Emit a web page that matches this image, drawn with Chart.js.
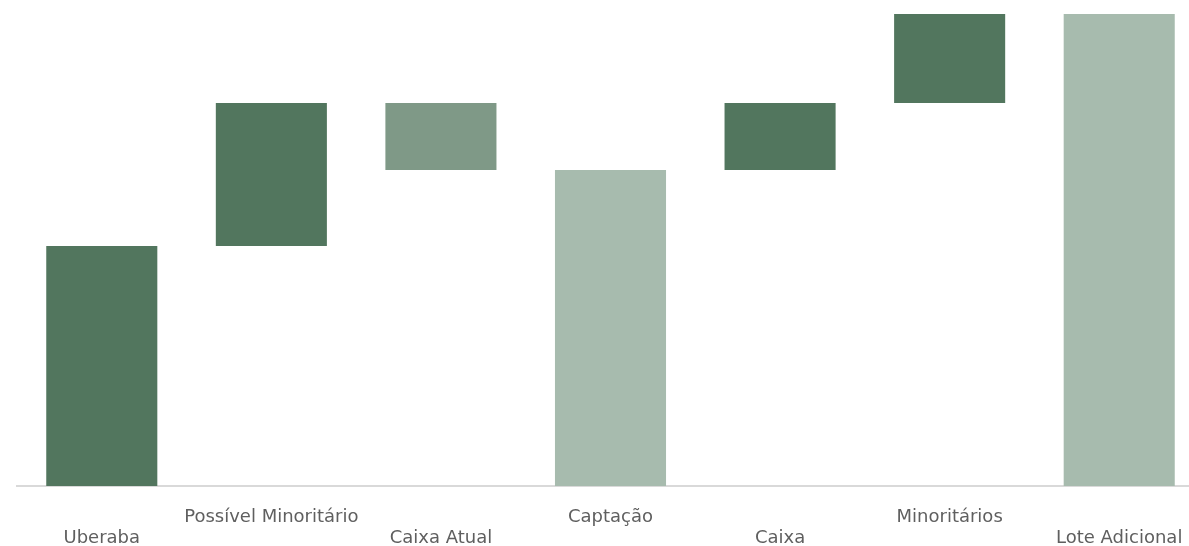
<!DOCTYPE html>
<html>
<head>
<meta charset="utf-8">
<script src="https://cdn.jsdelivr.net/npm/chart.js@4/dist/chart.umd.min.js"></script>
<style>
  html, body { margin: 0; padding: 0; background: #fff; overflow: hidden; }
  /* a area do grafico passa um pouco da borda direita, como no original */
  #wrap { width: 1204px; height: 546px; }
</style>
</head>
<body>
<div id="wrap"><canvas id="grafico"></canvas></div>
<script>
// categorias e valores (cascata)
const categorias = ['Uberaba', 'Possível Minoritário', 'Caixa Atual', 'Captação', 'Caixa', 'Minoritários', 'Lote Adicional'];
const inicio = [0, 240, 316, 0, 316, 383, 0];
const fim = [240, 383, 383, 316, 383, 472, 472];
const tipos = ['alta', 'alta', 'queda', 'total', 'alta', 'alta', 'total'];

const cores = { alta: '#52765E', queda: '#7F9987', total: '#A7BBAE' };

// rotulos alternados em duas linhas
const rotulos = categorias.map((c, i) => i % 2 === 0 ? ['', c] : [c, '']);

const ctx = document.getElementById('grafico').getContext('2d');
const chart = new Chart(ctx, {
  type: 'bar',
  data: {
    labels: rotulos,
    datasets: [{
      data: inicio.map((v, i) => [v, fim[i]]),
      backgroundColor: tipos.map(t => cores[t]),
      borderWidth: 0,
      categoryPercentage: 1,
      barPercentage: 0.655
    }]
  },
  options: {
    responsive: true,
    maintainAspectRatio: false,
    animation: false,
    layout: { padding: { left: 17, right: 0, top: 14, bottom: 0 } },
    plugins: { legend: { display: false }, tooltip: { enabled: false } },
    scales: {
      x: {
        grid: { display: false },
        border: { display: true, color: '#D9D9D9', width: 2 },
        ticks: {
          autoSkip: false,
          maxRotation: 0,
          minRotation: 0,
          padding: 13,
          color: '#5f5f5f',
          font: { family: 'DejaVu Sans', size: 18, lineHeight: 1.167 }
        },
        afterFit: (scale) => { scale.height = 60; }
      },
      y: {
        display: false,
        min: 0,
        max: 472
      }
    }
  }
});
</script>
</body>
</html>
